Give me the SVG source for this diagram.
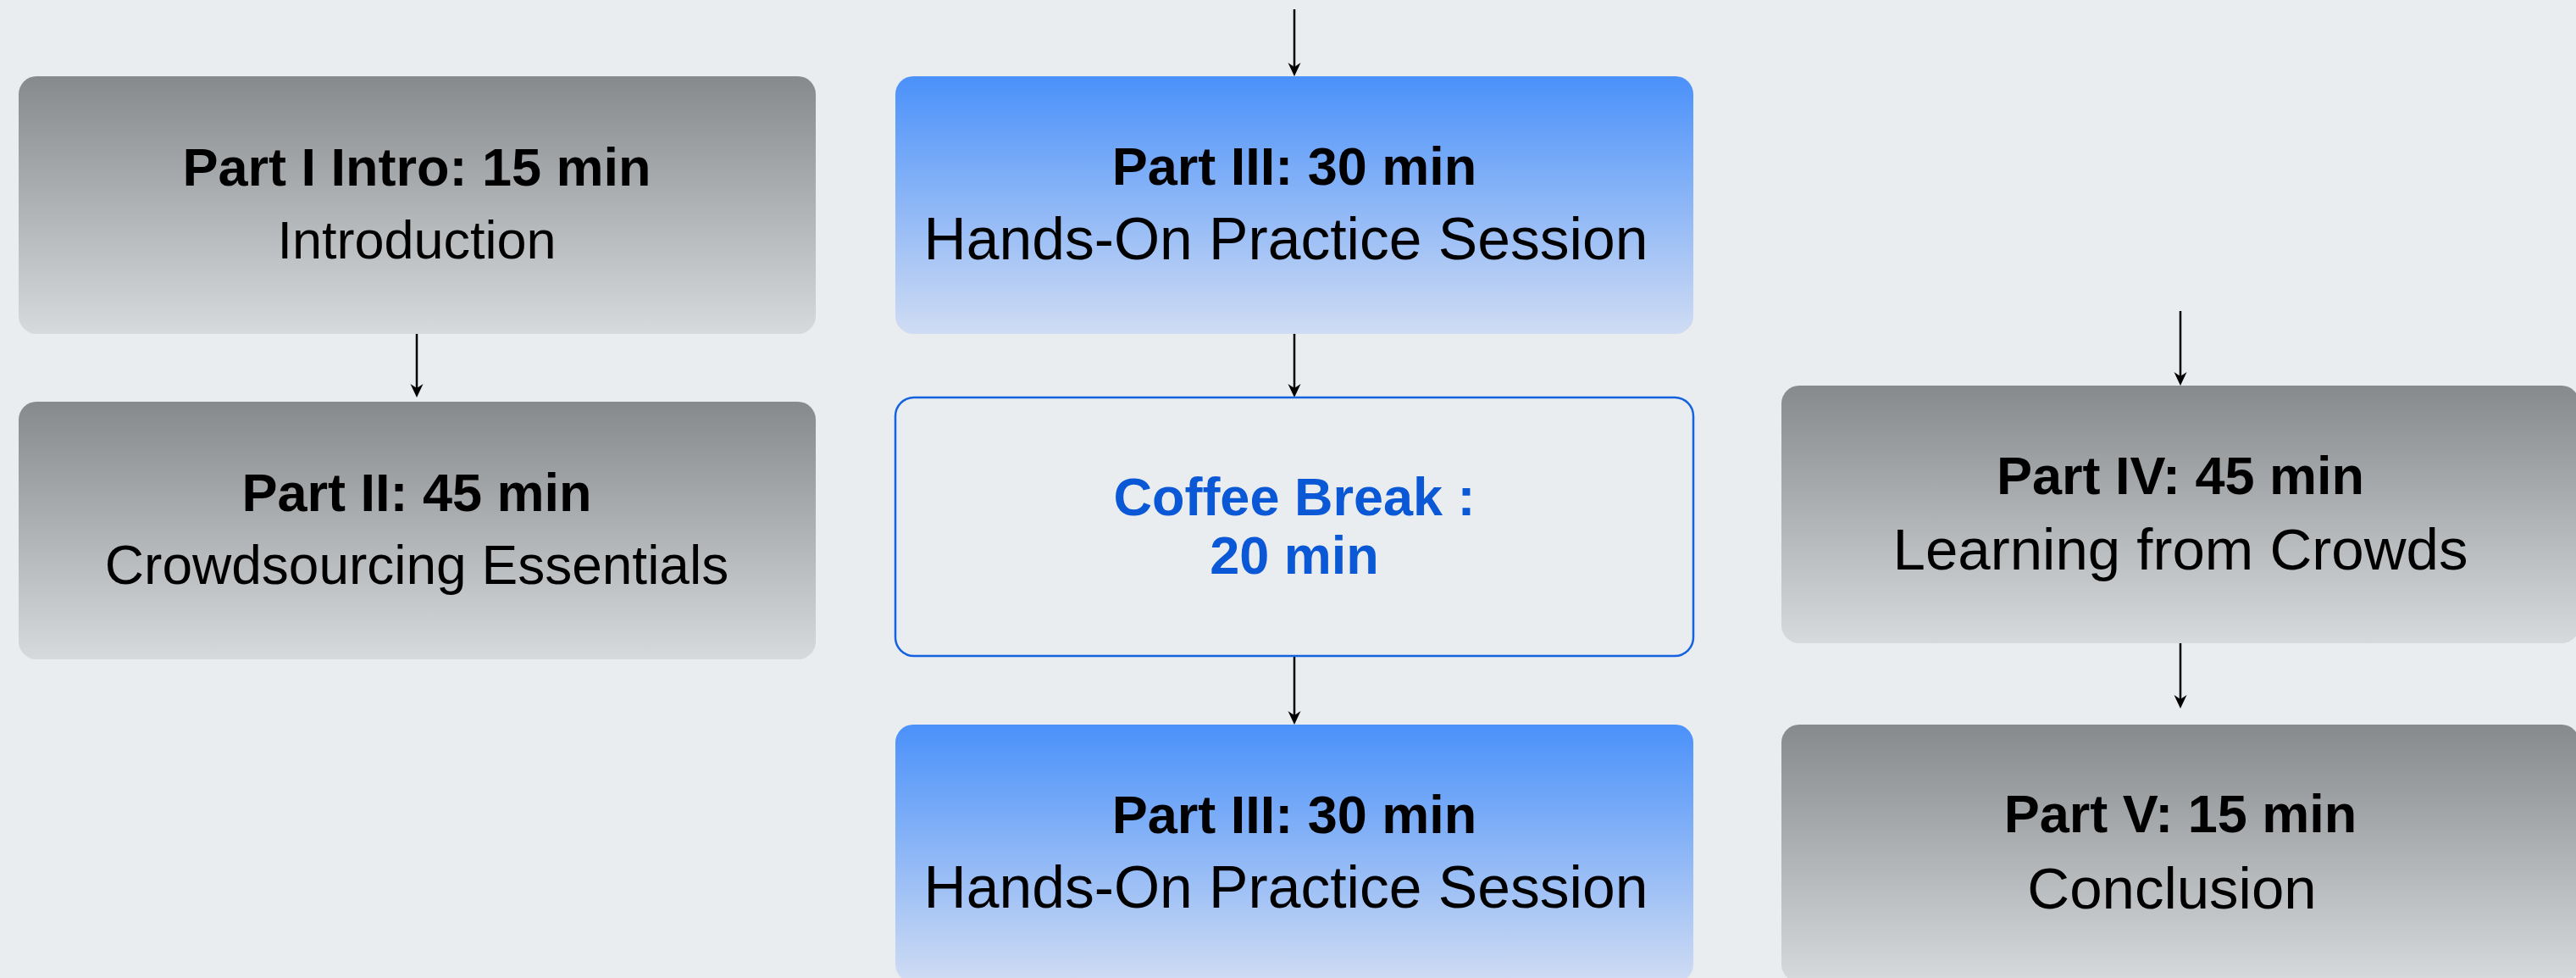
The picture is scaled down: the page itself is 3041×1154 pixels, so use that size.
<svg xmlns="http://www.w3.org/2000/svg" width="3041" height="1154" viewBox="0 0 3041 1154">
  <style>
    .t { font-family: "Liberation Sans", Arial, sans-serif; font-size: 63px; text-anchor: middle; fill: #000000; }
    .b { font-weight: bold; }
    .s { font-size: 69px; }
    .cb { fill: #0b58d6; font-weight: bold; }
    .edge { stroke: #000000; stroke-width: 2.5; fill: none; marker-end: url(#arrow); }
  </style>
  <defs>
    <linearGradient id="gGray" x1="0" y1="0" x2="0" y2="1">
      <stop offset="0" stop-color="#878a8d"/>
      <stop offset="1" stop-color="#d6dadd"/>
    </linearGradient>
    <linearGradient id="gBlue" x1="0" y1="0" x2="0" y2="1">
      <stop offset="0" stop-color="#4a91fa"/>
      <stop offset="1" stop-color="#d0dcf3"/>
    </linearGradient>
    <marker id="arrow" markerUnits="userSpaceOnUse" markerWidth="16" markerHeight="16" viewBox="0 0 16 16" refX="10" refY="8" orient="auto">
      <path d="M0,0.5 L16,8 L0,15.5 L5,8 z" fill="#000000"/>
    </marker>
  </defs>
  <rect x="0" y="0" width="3041" height="1154" fill="#e9edf0"/>

  <g id="connectors">
    <line class="edge" x1="492" y1="394" x2="492" y2="463"/>
    <line class="edge" x1="1528" y1="11" x2="1528" y2="84"/>
    <line class="edge" x1="1528" y1="394" x2="1528" y2="463"/>
    <line class="edge" x1="1528" y1="774" x2="1528" y2="849"/>
    <line class="edge" x1="2574" y1="367" x2="2574" y2="449"/>
    <line class="edge" x1="2574" y1="759" x2="2574" y2="830"/>
  </g>

  <g id="part1">
    <rect x="22" y="90" width="941" height="304" rx="21" fill="url(#gGray)"/>
    <text class="t b" x="492" y="219">Part I Intro: 15 min</text>
    <text class="t" x="492" y="305">Introduction</text>
  </g>
  <g id="part2">
    <rect x="22" y="474" width="941" height="304" rx="21" fill="url(#gGray)"/>
    <text class="t b" x="492" y="603">Part II: 45 min</text>
    <text class="t" x="492" y="689" style="font-size:64px">Crowdsourcing Essentials</text>
  </g>
  <g id="part3a">
    <rect x="1057" y="90" width="942" height="304" rx="21" fill="url(#gBlue)"/>
    <text class="t b" x="1528" y="218">Part III: 30 min</text>
    <text class="t s" x="1518" y="306" style="font-size:69.6px">Hands-On Practice Session</text>
  </g>
  <g id="coffee">
    <rect x="1057" y="469" width="942" height="305" rx="22" fill="#e9edf0" stroke="#1462e0" stroke-width="2.5"/>
    <text class="t cb" x="1528" y="608">Coffee Break :</text>
    <text class="t cb" x="1528" y="677">20 min</text>
  </g>
  <g id="part3b">
    <rect x="1057" y="855" width="942" height="304" rx="21" fill="url(#gBlue)"/>
    <text class="t b" x="1528" y="983">Part III: 30 min</text>
    <text class="t s" x="1518" y="1071" style="font-size:69.6px">Hands-On Practice Session</text>
  </g>
  <g id="part4">
    <rect x="2103" y="455" width="942" height="304" rx="21" fill="url(#gGray)"/>
    <text class="t b" x="2574" y="583">Part IV: 45 min</text>
    <text class="t s" x="2574" y="672">Learning from Crowds</text>
  </g>
  <g id="part5">
    <rect x="2103" y="855" width="942" height="304" rx="21" fill="url(#gGray)"/>
    <text class="t b" x="2574" y="982">Part V: 15 min</text>
    <text class="t s" x="2564" y="1072">Conclusion</text>
  </g>
</svg>
